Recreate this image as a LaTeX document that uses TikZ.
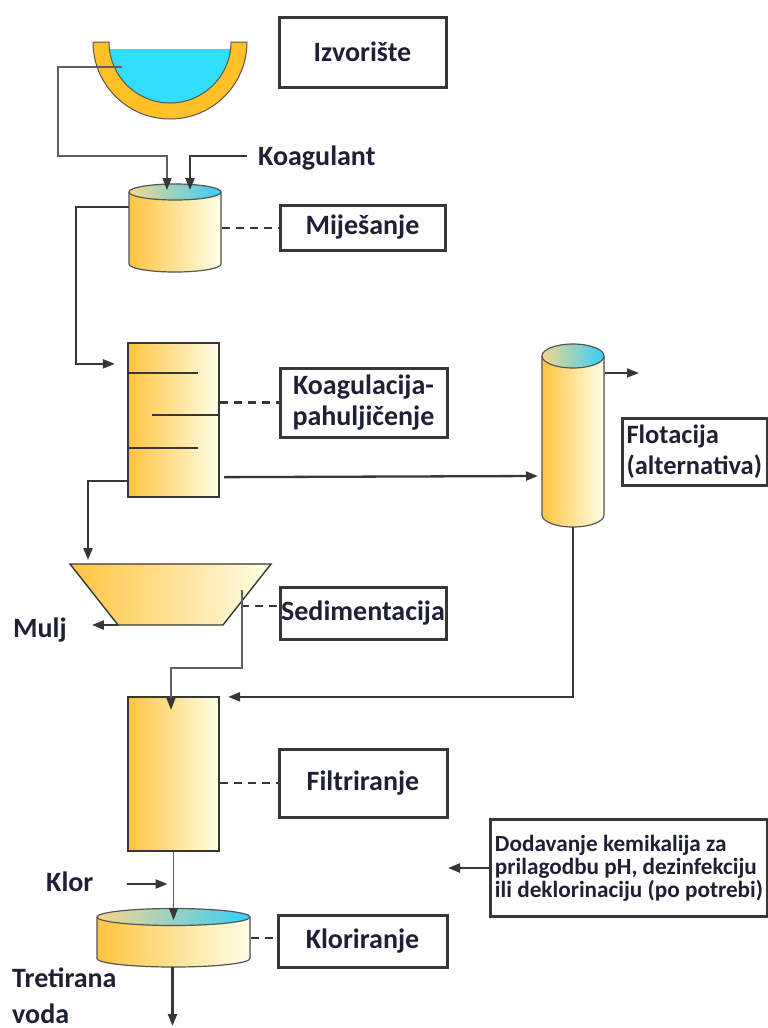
\documentclass[tikz,border=0pt]{standalone}
\usepackage{fontspec}
\setmainfont{Carlito}
\usetikzlibrary{arrows.meta,calc}
\definecolor{gold}{RGB}{255,196,64}
\definecolor{rimc}{RGB}{255,192,40}
\definecolor{pale}{RGB}{255,245,185}
\definecolor{ivory}{RGB}{255,255,232}
\definecolor{water}{RGB}{51,221,255}
\definecolor{cyanT}{RGB}{55,205,250}
\definecolor{topL}{RGB}{245,215,140}
\definecolor{linec}{RGB}{55,55,55}
\definecolor{thinc}{RGB}{95,95,95}
\definecolor{txt}{RGB}{30,32,52}
\definecolor{edgec}{RGB}{85,85,85}
\begin{document}
\begin{tikzpicture}[x=1pt,y=-1pt,
  conn/.style={draw=linec, line width=2.3pt, -{Triangle[length=12pt,width=9pt]}},
  thinconn/.style={draw=thinc, line width=1.3pt, -{Triangle[length=12pt,width=9pt,color=linec]}},
  dashc/.style={draw=linec, line width=2.3pt, dash pattern=on 8pt off 6pt},
  lbl/.style={draw=linec, line width=3pt, text=txt, inner sep=0pt, align=center, font=\bfseries\fontsize{28}{31}\selectfont},
  free/.style={text=txt, inner sep=0pt, font=\bfseries\fontsize{28}{36}\selectfont},
  body/.style={left color=gold, middle color=pale, right color=ivory},
  tank/.style={draw=linec, line width=2.3pt, body, inner sep=0pt},
  topsurf/.style={draw=edgec, line width=1.2pt, left color=topL, right color=cyanT},
  outl/.style={draw=edgec, line width=1.2pt},
  baffle/.style={draw=linec, line width=2.3pt}
]
\fill[white] (0,0) rectangle (768,1028);
\useasboundingbox (0,0) rectangle (768,1028);

% ---------- source bowl (radii in pt, canvas angles: 270 = down) ----------
\fill[water] (109.4,49) arc[start angle=186.6,end angle=353.4,radius=61pt] -- cycle;
\draw[outl, line width=1pt, fill=rimc] (93,42) -- (109,42) arc[start angle=180,end angle=360,radius=61pt] -- (247,42) arc[start angle=0,end angle=-180,radius=77pt] -- cycle;
\coordinate (bowlout) at (122,67);

% ---------- mixing cylinder ----------
\fill[body] (129,192) -- (129,264) arc[start angle=180,end angle=360,x radius=46pt,y radius=8pt] -- (221,192) -- cycle;
\draw[outl] (129,192) -- (129,264) arc[start angle=180,end angle=360,x radius=46pt,y radius=8pt] -- (221,192);
\draw[topsurf] (175,192) ellipse[x radius=46pt,y radius=8pt];
\coordinate (mixin1) at (167,190);
\coordinate (mixin2) at (190,190);
\coordinate (mixL) at (129,207);
\coordinate (mixR) at (222,228);

% ---------- coagulation tank ----------
\node[tank, minimum width=91pt, minimum height=154pt] (koag) at (173.5,420) {};
\draw[baffle] ($(koag.north west)+(1,31)$) -- ++(70,0);
\draw[baffle] ($(koag.north east)+(-1,73)$) -- ++(-67,0);
\draw[baffle] ($(koag.north west)+(1,106)$) -- ++(70,0);

% ---------- sedimentation ----------
\draw[draw=linec, line width=1.4pt, body] (70,564) -- (271,564) -- (223,625) -- (118,625) -- cycle;
\coordinate (sedin) at (88,560);
\coordinate (sedBL) at (118,625);
\coordinate (sedout) at (242,590);
\coordinate (sedR) at (241,606);

% ---------- flotation cylinder ----------
\fill[body] (542,356) -- (542,515) arc[start angle=180,end angle=360,x radius=31pt,y radius=12pt] -- (604,356) -- cycle;
\draw[outl] (542,356) -- (542,515) arc[start angle=180,end angle=360,x radius=31pt,y radius=12pt] -- (604,356);
\draw[topsurf] (573,356) ellipse[x radius=31pt,y radius=12pt];
\coordinate (flotin) at (538,476);
\coordinate (flotout) at (605,373);
\coordinate (flotend) at (639,373);
\coordinate (flotbot) at (573,527);

% ---------- filter ----------
\node[tank, minimum width=91pt, minimum height=154pt] (filt) at (173.5,774) {};

% ---------- chlorination ----------
\fill[body] (97,917) -- (97,958.5) arc[start angle=180,end angle=360,x radius=76.5pt,y radius=8.5pt] -- (250,917) -- cycle;
\draw[outl] (97,917) -- (97,958.5) arc[start angle=180,end angle=360,x radius=76.5pt,y radius=8.5pt] -- (250,917);
\draw[topsurf] (173.5,917) ellipse[x radius=76.5pt,y radius=8.5pt];
\coordinate (chlin) at (173.5,920);
\coordinate (chlR) at (251,938);
\coordinate (chlbot) at (172.5,967);
\coordinate (water) at (172.5,1026);

% ---------- label boxes ----------
\node[lbl, minimum width=167pt, minimum height=70pt] (izv) at (362.5,52) {Izvorište};
\node[lbl, minimum width=165pt, minimum height=45pt] (mij) at (362.5,227.5) {Miješanje};
\node[lbl, minimum width=167pt, minimum height=69pt] (koagl) at (363.5,402.5) {Koagulacija-\\pahuljičenje};
\node[lbl, minimum width=166pt, minimum height=52pt] (sedl) at (363,613) {Sedimentacija};
\node[lbl, minimum width=168pt, minimum height=68pt] (filtl) at (363,783) {Filtriranje};
\node[lbl, minimum width=169pt, minimum height=52pt] (klorl) at (362.5,941) {Kloriranje};
\node[lbl, anchor=north west, inner xsep=4pt, text width=137pt, minimum height=67pt, align=left, font=\bfseries\fontsize{26.5}{31}\selectfont] (flotl) at (621,417) {Flotacija\\(alternativa)};
\node[lbl, anchor=north west, minimum width=277pt, minimum height=97pt, align=left, font=\bfseries\fontsize{23.2}{23}\selectfont] (dod) at (489,818) {Dodavanje kemikalija za\\prilagodbu pH, dezinfekciju\\ili deklorinaciju (po potrebi)};

% ---------- free texts ----------
\node[free, anchor=base west] (koagulant) at (258,165) {Koagulant};
\node[free, anchor=base west] (mulj) at (13,637) {Mulj};
\node[free, anchor=base west] (klor) at (46,891) {Klor};
\node[free, anchor=base west, align=left] (tret) at (12,1023) {Tretirana\\voda};

% ---------- dashed links ----------
\draw[dashc] (mixR) -- (mixR -| mij.west);
\draw[dashc] (koag.east |- koagl.west) -- (koagl.west);
\draw[dashc] (sedR) -- (sedR -| sedl.west);
\draw[dashc] (filt.east |- filtl.west) -- (filtl.west);
\draw[dashc] (chlR) -- (chlR -| klorl.west);

% ---------- connectors ----------
\draw[thinconn] (bowlout) -- (58,67) -- (58,156) -| (mixin1);
\draw[conn] ($(koagulant.base west)+(-11,-9)$) -| (mixin2);
\draw[conn] (mixL) -- (76,207) |- ($(koag.north west)+(-12,22)$);
\draw[conn] ($(koag.south east)+(4,-21)$) -- (flotin);
\draw[conn] ($(koag.south west)+(0,-17)$) -| (sedin);
\draw[conn] (sedBL) -- ($(mulj.base east)+(25,-12)$);
\draw[thinconn] (sedout) -- (242,668) -| ($(filt.north)+(-2.5,14)$);
\draw[conn, line width=1.6pt] (flotout) -- (flotend);
\draw[conn] (flotbot) |- ($(filt.north east)+(8,1)$);
\draw[thinconn] (filt.south) -- (chlin);
\draw[conn] ($(klor.base east)+(33,-7)$) -- ++(41,0);
\draw[conn] (chlbot) -- (water);
\draw[conn] (dod.west) -- ++(-41,0);
\end{tikzpicture}
\end{document}
